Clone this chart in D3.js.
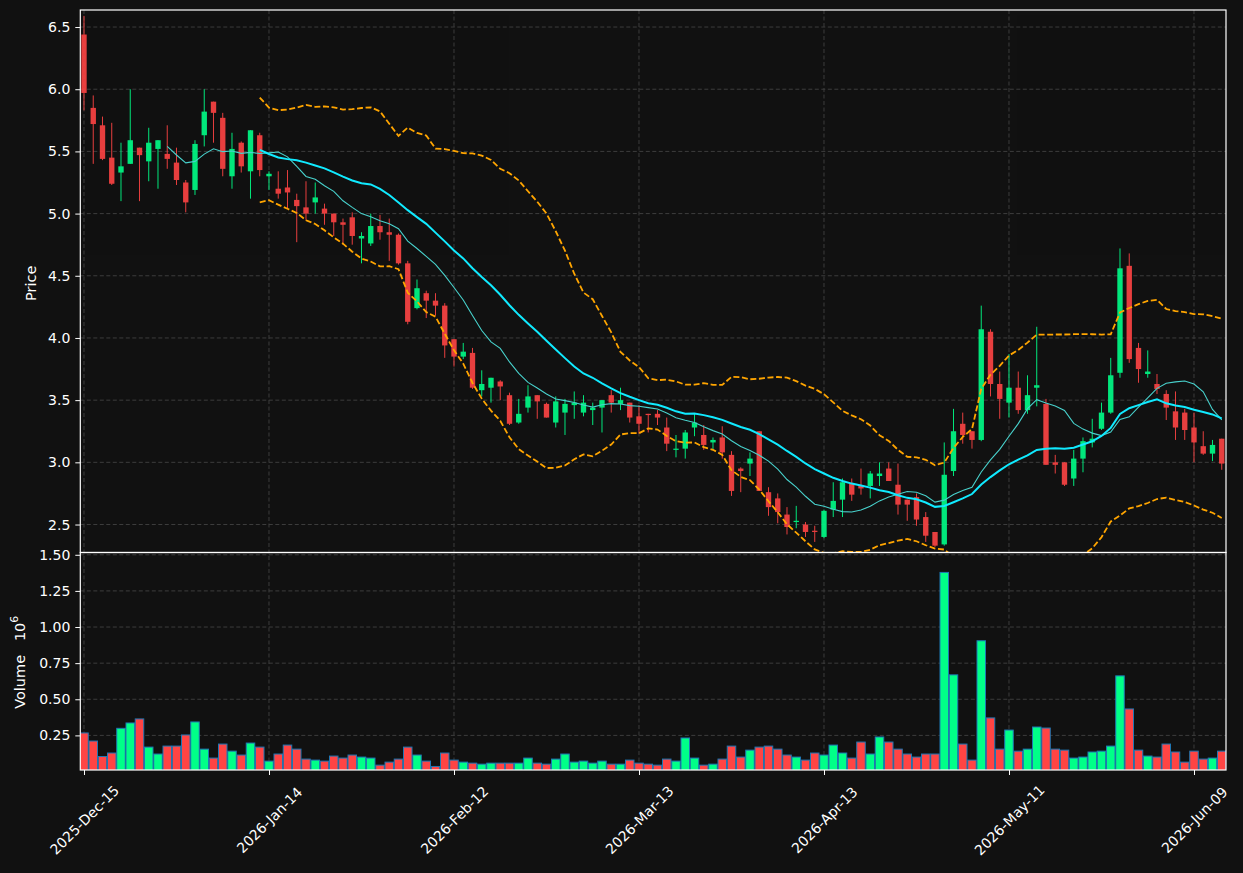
<!DOCTYPE html>
<html><head><meta charset="utf-8">
<script src="https://cdn.jsdelivr.net/npm/d3@7"></script>
<style>html,body{margin:0;padding:0;background:#111111;}svg{display:block;}</style>
</head><body><svg id="chart" width="1243" height="873"></svg>
<script>
const opens = [6.44,5.85,5.71,5.45,5.33,5.40,5.53,5.42,5.52,5.48,5.41,5.25,5.19,5.63,5.90,5.77,5.30,5.57,5.34,5.63,
5.30,5.20,5.21,5.11,5.05,5.09,5.04,5.00,4.93,4.97,4.80,4.76,4.90,4.85,4.83,4.60,4.24,4.36,4.30,4.26,
3.99,3.85,3.88,3.58,3.60,3.65,3.54,3.32,3.44,3.54,3.47,3.32,3.40,3.46,3.40,3.42,3.44,3.54,3.47,3.48,
3.37,3.39,3.39,3.28,3.10,3.11,3.28,3.22,3.16,3.20,3.06,2.95,2.99,3.25,2.76,2.71,2.58,2.52,2.50,2.45,
2.40,2.62,2.70,2.83,2.81,2.81,2.89,2.95,2.82,2.70,2.72,2.56,2.44,2.34,2.93,3.31,3.25,3.18,4.05,3.63,
3.48,3.60,3.42,3.60,3.47,3.00,3.00,2.87,3.03,3.16,3.27,3.40,3.72,4.58,3.92,3.71,3.63,3.55,3.41,3.40,
3.28,3.13,3.07,3.19];
const highs = [6.59,5.95,5.78,5.73,5.57,6.00,5.53,5.69,5.59,5.71,5.53,5.27,5.59,6.00,5.90,5.81,5.65,5.58,5.67,5.65,
5.34,5.34,5.35,5.16,5.26,5.25,5.08,5.00,4.96,5.01,4.85,5.00,4.99,4.96,4.84,4.62,4.47,4.38,4.36,4.28,
3.99,3.96,3.92,3.74,3.68,3.66,3.56,3.51,3.62,3.54,3.48,3.53,3.51,3.57,3.54,3.48,3.50,3.58,3.60,3.48,
3.46,3.39,3.42,3.36,3.22,3.26,3.39,3.30,3.20,3.29,3.09,2.96,3.08,3.25,2.80,2.75,2.64,2.65,2.52,2.49,
2.62,2.84,2.87,2.87,2.95,2.93,3.00,3.00,2.99,2.70,2.75,2.60,2.44,3.16,3.43,3.40,3.25,4.26,4.07,3.73,
3.87,3.73,3.70,4.09,3.51,3.06,3.00,3.10,3.20,3.35,3.48,3.84,4.72,4.68,3.96,3.90,3.71,3.58,3.57,3.43,
3.40,3.25,3.18,3.19];
const lows = [5.83,5.40,5.43,5.23,5.10,5.40,5.10,5.26,5.20,5.36,5.23,5.01,5.15,5.54,5.57,5.30,5.20,5.33,5.12,5.30,
5.19,5.12,5.04,4.77,4.95,5.00,4.91,4.82,4.75,4.75,4.60,4.74,4.79,4.62,4.59,4.11,4.23,4.16,4.18,3.84,
3.77,3.83,3.59,3.53,3.48,3.50,3.30,3.31,3.40,3.35,3.36,3.28,3.22,3.35,3.37,3.30,3.24,3.40,3.42,3.32,
3.23,3.24,3.30,3.09,3.04,3.03,3.21,3.10,3.10,3.03,2.73,2.76,2.89,2.77,2.57,2.51,2.42,2.47,2.40,2.36,
2.39,2.56,2.56,2.69,2.74,2.71,2.81,2.85,2.58,2.53,2.49,2.36,2.32,2.33,2.89,3.15,3.11,3.17,3.53,3.35,
3.36,3.39,3.39,3.45,2.98,2.91,2.81,2.81,2.92,3.12,3.26,3.39,3.68,3.80,3.64,3.68,3.55,3.34,3.18,3.18,
3.00,3.06,3.01,2.94];
const closes = [5.97,5.72,5.44,5.24,5.38,5.59,5.47,5.57,5.59,5.44,5.27,5.09,5.56,5.82,5.81,5.36,5.52,5.38,5.67,5.35,
5.32,5.16,5.17,5.06,5.00,5.13,5.00,4.93,4.91,4.82,4.82,4.90,4.85,4.83,4.60,4.13,4.40,4.30,4.26,3.94,
3.85,3.89,3.60,3.63,3.68,3.61,3.31,3.39,3.53,3.49,3.36,3.49,3.47,3.48,3.48,3.44,3.50,3.48,3.50,3.36,
3.31,3.38,3.36,3.15,3.11,3.24,3.32,3.14,3.18,3.08,2.77,2.93,3.03,2.77,2.64,2.60,2.48,2.53,2.44,2.44,
2.61,2.69,2.84,2.74,2.79,2.91,2.91,2.85,2.66,2.66,2.54,2.41,2.33,2.90,3.25,3.22,3.18,4.07,3.63,3.51,
3.60,3.42,3.54,3.62,2.98,2.98,2.82,3.03,3.17,3.19,3.40,3.70,4.56,3.83,3.75,3.73,3.59,3.44,3.28,3.26,
3.16,3.07,3.14,2.99];
// volume in units of 10^6
const volumes = [0.267,0.211,0.104,0.128,0.299,0.336,0.364,0.169,0.121,0.176,0.176,0.253,0.343,0.155,0.093,0.190,0.141,0.114,0.197,0.169,
0.072,0.121,0.183,0.155,0.086,0.079,0.072,0.107,0.093,0.114,0.100,0.093,0.044,0.065,0.086,0.169,0.114,0.072,0.035,0.128,
0.079,0.065,0.058,0.051,0.058,0.058,0.058,0.058,0.093,0.058,0.051,0.086,0.121,0.065,0.072,0.058,0.072,0.051,0.051,0.079,
0.058,0.051,0.044,0.086,0.072,0.232,0.093,0.044,0.051,0.086,0.176,0.100,0.148,0.169,0.176,0.155,0.114,0.100,0.079,0.128,
0.114,0.183,0.128,0.093,0.204,0.121,0.239,0.204,0.155,0.121,0.100,0.121,0.121,1.378,0.669,0.190,0.079,0.905,0.371,0.155,
0.287,0.141,0.155,0.308,0.301,0.155,0.148,0.093,0.100,0.135,0.141,0.176,0.662,0.433,0.148,0.107,0.100,0.190,0.135,0.065,
0.141,0.086,0.093,0.141];
const xTickIndex = [0,20,40,60,80,100,120];
const xTickLabels = ["2025-Dec-15","2026-Jan-14","2026-Feb-12","2026-Mar-13","2026-Apr-13","2026-May-11","2026-Jun-09"];
const priceTicks = [2.5,3.0,3.5,4.0,4.5,5.0,5.5,6.0,6.5];
const volumeTicks = [0.25,0.50,0.75,1.00,1.25,1.50];
const maShort = 10, maLong = 20, bbK = 2;

const W = 1243, H = 873;
const L = 80.3, R = 1226, T = 10, M = 552.5, B = 770;
const FONT = "DejaVu Sans";
const UP = "#00ff88", DOWN = "#ff4444";

const svg = d3.select("#chart");
svg.append("rect").attr("width", W).attr("height", H).attr("fill", "#111111");
const n = closes.length;
const x = d3.scaleLinear().domain([-0.4, n - 1 + 0.46]).range([L, R]);
const step = x(1) - x(0);
const yP = d3.scaleLinear().domain([2.275, 6.637]).range([M, T]);
const yV = d3.scaleLinear().domain([0.3 * d3.min(volumes), 1.1 * d3.max(volumes)]).range([B, M]);

const defs = svg.append("defs");
defs.append("clipPath").attr("id", "cp").append("rect").attr("x", L).attr("y", T).attr("width", R - L).attr("height", M - T);
defs.append("clipPath").attr("id", "cv").append("rect").attr("x", L).attr("y", M).attr("width", R - L).attr("height", B - M);

// grid
const grid = svg.append("g").attr("stroke", "#3d3d3d").attr("stroke-width", 1).attr("stroke-dasharray", "4,2.5");
grid.selectAll("line.vx").data(xTickIndex).join("line").attr("x1", d => x(d)).attr("x2", d => x(d)).attr("y1", T).attr("y2", B);
grid.selectAll("line.hp").data(priceTicks).join("line").attr("x1", L).attr("x2", R).attr("y1", d => yP(d)).attr("y2", d => yP(d));
grid.selectAll("line.hv").data(volumeTicks).join("line").attr("x1", L).attr("x2", R).attr("y1", d => yV(d)).attr("y2", d => yV(d));

const idx = d3.range(n);
// volume bars
svg.append("g").attr("clip-path", "url(#cv)").selectAll("rect").data(idx).join("rect")
  .attr("x", i => x(i) - step * 0.46).attr("width", step * 0.92)
  .attr("y", i => yV(volumes[i])).attr("height", i => B + 2 - yV(volumes[i]))
  .attr("fill", i => closes[i] >= opens[i] ? UP : DOWN)
  .attr("stroke", "#1f77b4").attr("stroke-width", 1);

// indicators
function sma(p) { return closes.map((c, i) => i < p - 1 ? null : d3.mean(closes.slice(i - p + 1, i + 1))); }
function sd(p) { return closes.map((c, i) => { if (i < p - 1) return null; const s = closes.slice(i - p + 1, i + 1); const m = d3.mean(s); return Math.sqrt(d3.mean(s.map(v => (v - m) * (v - m)))); }); }
const s10 = sma(maShort), s20 = sma(maLong), sd20 = sd(maLong);
const upper = s20.map((m, i) => m == null ? null : m + bbK * sd20[i]);
const lower = s20.map((m, i) => m == null ? null : m - bbK * sd20[i]);
const line = d3.line().defined(d => d[1] != null).x(d => x(d[0])).y(d => yP(d[1]));
const pg = svg.append("g").attr("clip-path", "url(#cp)");

// candles
const cg = pg.append("g").attr("opacity", 0.9);
cg.selectAll("line").data(idx).join("line")
  .attr("x1", i => x(i)).attr("x2", i => x(i)).attr("y1", i => yP(highs[i])).attr("y2", i => yP(lows[i]))
  .attr("stroke", i => closes[i] >= opens[i] ? UP : DOWN).attr("stroke-width", 1);
cg.selectAll("rect").data(idx).join("rect")
  .attr("x", i => x(i) - step * 0.29).attr("width", step * 0.58)
  .attr("y", i => yP(Math.max(opens[i], closes[i])))
  .attr("height", i => Math.max(1, Math.abs(yP(opens[i]) - yP(closes[i]))))
  .attr("fill", i => closes[i] >= opens[i] ? UP : DOWN);

pg.append("path").attr("d", line(idx.map(i => [i, upper[i]]))).attr("fill", "none").attr("stroke", "#ffa500").attr("stroke-width", 1.8).attr("stroke-dasharray", "6,2.6");
pg.append("path").attr("d", line(idx.map(i => [i, lower[i]]))).attr("fill", "none").attr("stroke", "#ffa500").attr("stroke-width", 1.8).attr("stroke-dasharray", "6,2.6");
pg.append("path").attr("d", line(idx.map(i => [i, s10[i]]))).attr("fill", "none").attr("stroke", "#48d1cc").attr("stroke-width", 1.1);
pg.append("path").attr("d", line(idx.map(i => [i, s20[i]]))).attr("fill", "none").attr("stroke", "#10eaff").attr("stroke-width", 2);

// axes
function styleAxis(g) {
  g.select(".domain").remove();
  g.selectAll(".tick line").attr("stroke", "#ffffff");
  g.selectAll(".tick text").attr("fill", "#ffffff").style("font-family", FONT).style("font-size", "14px");
}
svg.append("g").attr("transform", `translate(${L},0)`)
  .call(d3.axisLeft(yP).tickValues(priceTicks).tickFormat(d3.format(".1f")).tickSize(5).tickPadding(5)).call(styleAxis);
svg.append("g").attr("transform", `translate(${L},0)`)
  .call(d3.axisLeft(yV).tickValues(volumeTicks).tickFormat(d3.format(".2f")).tickSize(5).tickPadding(5)).call(styleAxis);
const xa = svg.append("g").attr("transform", `translate(0,${B})`)
  .call(d3.axisBottom(x).tickValues(xTickIndex).tickFormat((d, i) => xTickLabels[i]).tickSize(5)).call(styleAxis);
xa.selectAll(".tick text").attr("y", null).attr("dy", null)
  .attr("text-anchor", "middle").attr("dominant-baseline", "central")
  .attr("transform", "translate(0,50) rotate(-45)");

// spines
const sp = svg.append("g").attr("fill", "none").attr("stroke", "#ffffff").attr("stroke-width", 1.2);
sp.append("rect").attr("x", L).attr("y", T).attr("width", R - L).attr("height", M - T);
sp.append("rect").attr("x", L).attr("y", M).attr("width", R - L).attr("height", B - M);

// axis labels
svg.append("text").attr("transform", `translate(36,${(T + M) / 2 + 2}) rotate(-90)`)
  .attr("text-anchor", "middle").attr("fill", "#ffffff").style("font-family", FONT).style("font-size", "14.5px").text("Price");
const vl = svg.append("text").attr("transform", `translate(25,${(M + B) / 2 + 1}) rotate(-90)`)
  .attr("text-anchor", "middle").attr("fill", "#ffffff").style("font-family", FONT).style("font-size", "14.5px");
vl.append("tspan").text("Volume\u00a0\u00a0\u00a010");
vl.append("tspan").attr("dy", -7).style("font-size", "11px").text("6");
</script></body></html>
